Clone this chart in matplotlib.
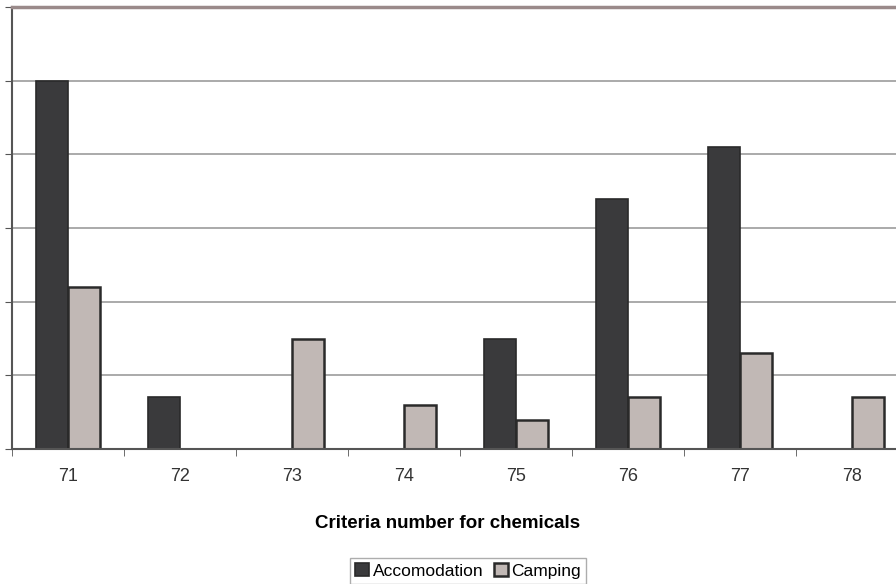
import matplotlib.pyplot as plt
import numpy as np

plt.rcParams['font.family'] = ['Liberation Sans', 'DejaVu Sans']

criteria = ['71', '72', '73', '74', '75', '76', '77', '78']
accomodation = [5.0, 0.7, 0.0, 0.0, 1.5, 3.4, 4.1, 0.0]
camping = [2.2, 0.0, 1.5, 0.6, 0.4, 0.7, 1.3, 0.7]

fig = plt.figure(figsize=(8.96, 5.84), dpi=100)
# axes run a bit past the right edge, as in the cropped original
ax = fig.add_axes([12 / 896, 135 / 584, 896 / 896, 442 / 584])

x = np.arange(len(criteria))
w = 0.29
ax.bar(x - w / 2, accomodation, w, color='#3a3a3c', edgecolor='#2a2a2a',
       linewidth=1.2, label='Accomodation', zorder=3)
ax.bar(x + w / 2, camping, w, color='#c1b8b5', edgecolor='#2a2a2a',
       linewidth=1.8, label='Camping', zorder=3)

ax.set_xlim(-0.5, len(criteria) - 0.5)
ax.set_ylim(0, 6)
ax.set_yticks(np.arange(0, 7, 1))
ax.set_yticklabels([])
ax.yaxis.grid(True, color='#9c9c9c', linewidth=1.2, zorder=0)

ax.set_xticks(x)
ax.set_xticklabels(criteria, fontsize=13, color='#333333')
ax.set_xticks(np.arange(-0.5, len(criteria), 1), minor=True)
ax.tick_params(axis='x', which='major', length=0, pad=14)
ax.tick_params(axis='x', which='minor', length=5, color='#555555')
ax.tick_params(axis='y', length=5, color='#555555', direction='out')

for s in ['top', 'right']:
    ax.spines[s].set_visible(False)
ax.spines['left'].set_color('#555555')
ax.spines['left'].set_linewidth(1.5)
ax.spines['bottom'].set_color('#555555')
ax.spines['bottom'].set_linewidth(1.5)
ax.spines['bottom'].set_zorder(5)
ax.axhline(6, color='#9a8a8a', linewidth=2.5, zorder=4, clip_on=False)

fig.text(448 / 896, 1 - 524 / 584, 'Criteria number for chemicals',
         ha='center', va='center', fontsize=13.5, fontweight='bold')

leg = fig.legend(loc='center', bbox_to_anchor=(468 / 896, 1 - 571 / 584),
                 ncol=2, fontsize=12.5, frameon=True, fancybox=False,
                 handlelength=0.8, handleheight=0.8, handletextpad=0.2,
                 columnspacing=0.6, borderpad=0.3, borderaxespad=0)
leg.get_frame().set_edgecolor('#999999')
leg.get_frame().set_linewidth(1.0)

fig.savefig('out.png', dpi=100)
